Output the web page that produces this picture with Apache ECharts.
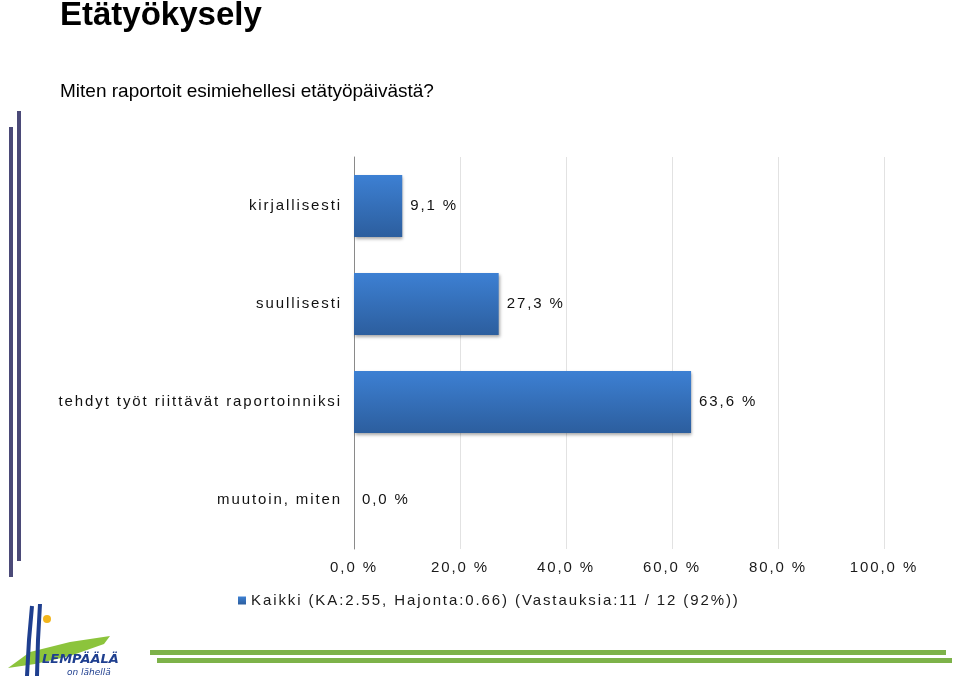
<!DOCTYPE html>
<html><head><meta charset="utf-8">
<script src="https://cdn.jsdelivr.net/npm/echarts@6/dist/echarts.min.js"></script>
<style>html,body{margin:0;padding:0;background:#fff}#c{width:960px;height:683px}</style>
</head><body><div id="c"></div>
<script>
// ---- data ----
const categories = ['kirjallisesti', 'suullisesti', 'tehdyt työt riittävät raportoinniksi', 'muutoin, miten'];
const values = [9.1, 27.3, 63.6, 0.0];
const xTicks = [0, 20, 40, 60, 80, 100];
const seriesName = 'Kaikki (KA:2.55, Hajonta:0.66) (Vastauksia:11 / 12 (92%))';
const titleText = 'Etätyökysely';
const subtitleText = 'Miten raportoit esimiehellesi etätyöpäivästä?';

// letter spacing for the chart body font (the source chart used spaced text)
(function(){
  const P = CanvasRenderingContext2D.prototype;
  const orig = P.fillText;
  P.fillText = function(t, x, y, m){
    try { this.letterSpacing = (this.font || '').indexOf('Liberation Sans') >= 0 ? '1.9px' : '0px'; } catch(e){}
    return m === undefined ? orig.call(this, t, x, y) : orig.call(this, t, x, y, m);
  };
})();

const fmt = v => v.toFixed(1).replace('.', ',') + ' %';
const F = 'Liberation Sans';

const chart = echarts.init(document.getElementById('c'), null, {renderer: 'canvas'});
chart.setOption({
  animation: false,
  backgroundColor: '#ffffff',
  title: [
    {text: titleText, left: 60, top: -1, padding: 0,
     textStyle: {fontFamily: 'Arial', fontSize: 33, fontWeight: 'bold', color: '#000'}},
    {text: subtitleText, left: 60, top: 82, padding: 0,
     textStyle: {fontFamily: 'Arial', fontSize: 19, fontWeight: 'normal', color: '#000'}}
  ],
  legend: {
    left: 238, top: 593, padding: 0,
    icon: 'rect', itemWidth: 8, itemHeight: 8, itemGap: 5,
    data: [seriesName],
    textStyle: {fontFamily: F, fontSize: 15, color: '#1a1a1a', padding: [0,0,0,0]}
  },
  grid: {left: 354, top: 157, width: 530, height: 392, containLabel: false},
  xAxis: {
    type: 'value', min: xTicks[0], max: xTicks[xTicks.length-1], interval: xTicks[1]-xTicks[0],
    axisLine: {show: false}, axisTick: {show: false},
    splitLine: {show: true, lineStyle: {color: '#e2e2e2', width: 1}},
    axisLabel: {margin: 11, fontFamily: F, fontSize: 15, color: '#1a1a1a', formatter: v => fmt(v)}
  },
  yAxis: {
    type: 'category', inverse: true, data: categories,
    axisLine: {show: true, lineStyle: {color: '#8a8a8a', width: 1}},
    axisTick: {show: false},
    axisLabel: {margin: 12, fontFamily: F, fontSize: 15, color: '#111'}
  },
  series: [{
    name: seriesName, type: 'bar', data: values, barWidth: 62,
    itemStyle: {
      color: new echarts.graphic.LinearGradient(0, 0, 0, 1, [
        {offset: 0, color: '#3d80d3'}, {offset: 1, color: '#2c5e9e'}
      ]),
      shadowColor: 'rgba(0,0,0,0.35)', shadowBlur: 3, shadowOffsetY: 2, shadowOffsetX: 1
    },
    label: {show: true, position: 'right', distance: 8, fontFamily: F, fontSize: 15, color: '#111',
            formatter: p => fmt(p.value)}
  }],
  graphic: [
    // left decorative bars
    {type: 'rect', shape: {x: 9, y: 127, width: 4, height: 450}, style: {fill: '#4b4a78'}},
    {type: 'rect', shape: {x: 17, y: 111, width: 4, height: 450}, style: {fill: '#4b4a78'}},
    // bottom green lines
    {type: 'rect', shape: {x: 150, y: 650, width: 796, height: 5}, style: {fill: '#7db249'}},
    {type: 'rect', shape: {x: 157, y: 658, width: 795, height: 5}, style: {fill: '#7db249'}},
    // logo
    {type: 'polygon', shape: {points: [[8,668],[30,652],[70,642],[110,636],[104,644],[70,656],[35,664]]}, style: {fill: '#8cc43c'}},
    {type: 'polyline', shape: {points: [[32,606],[29,640],[27,676]]}, style: {stroke: '#1f3f8f', lineWidth: 4, fill: null}},
    {type: 'polyline', shape: {points: [[40,604],[38,640],[37,676]]}, style: {stroke: '#1f3f8f', lineWidth: 4, fill: null}},
    {type: 'circle', shape: {cx: 47, cy: 619, r: 4}, style: {fill: '#f2b51c'}},
    {type: 'text', x: 42, y: 653, style: {text: 'LEMPÄÄLÄ', font: 'italic bold 13px "DejaVu Sans"', fill: '#1f3f8f'}},
    {type: 'text', x: 67, y: 668, style: {text: 'on lähellä', font: 'italic 9px "DejaVu Sans"', fill: '#1f3f8f'}}
  ]
});
</script></body></html>
